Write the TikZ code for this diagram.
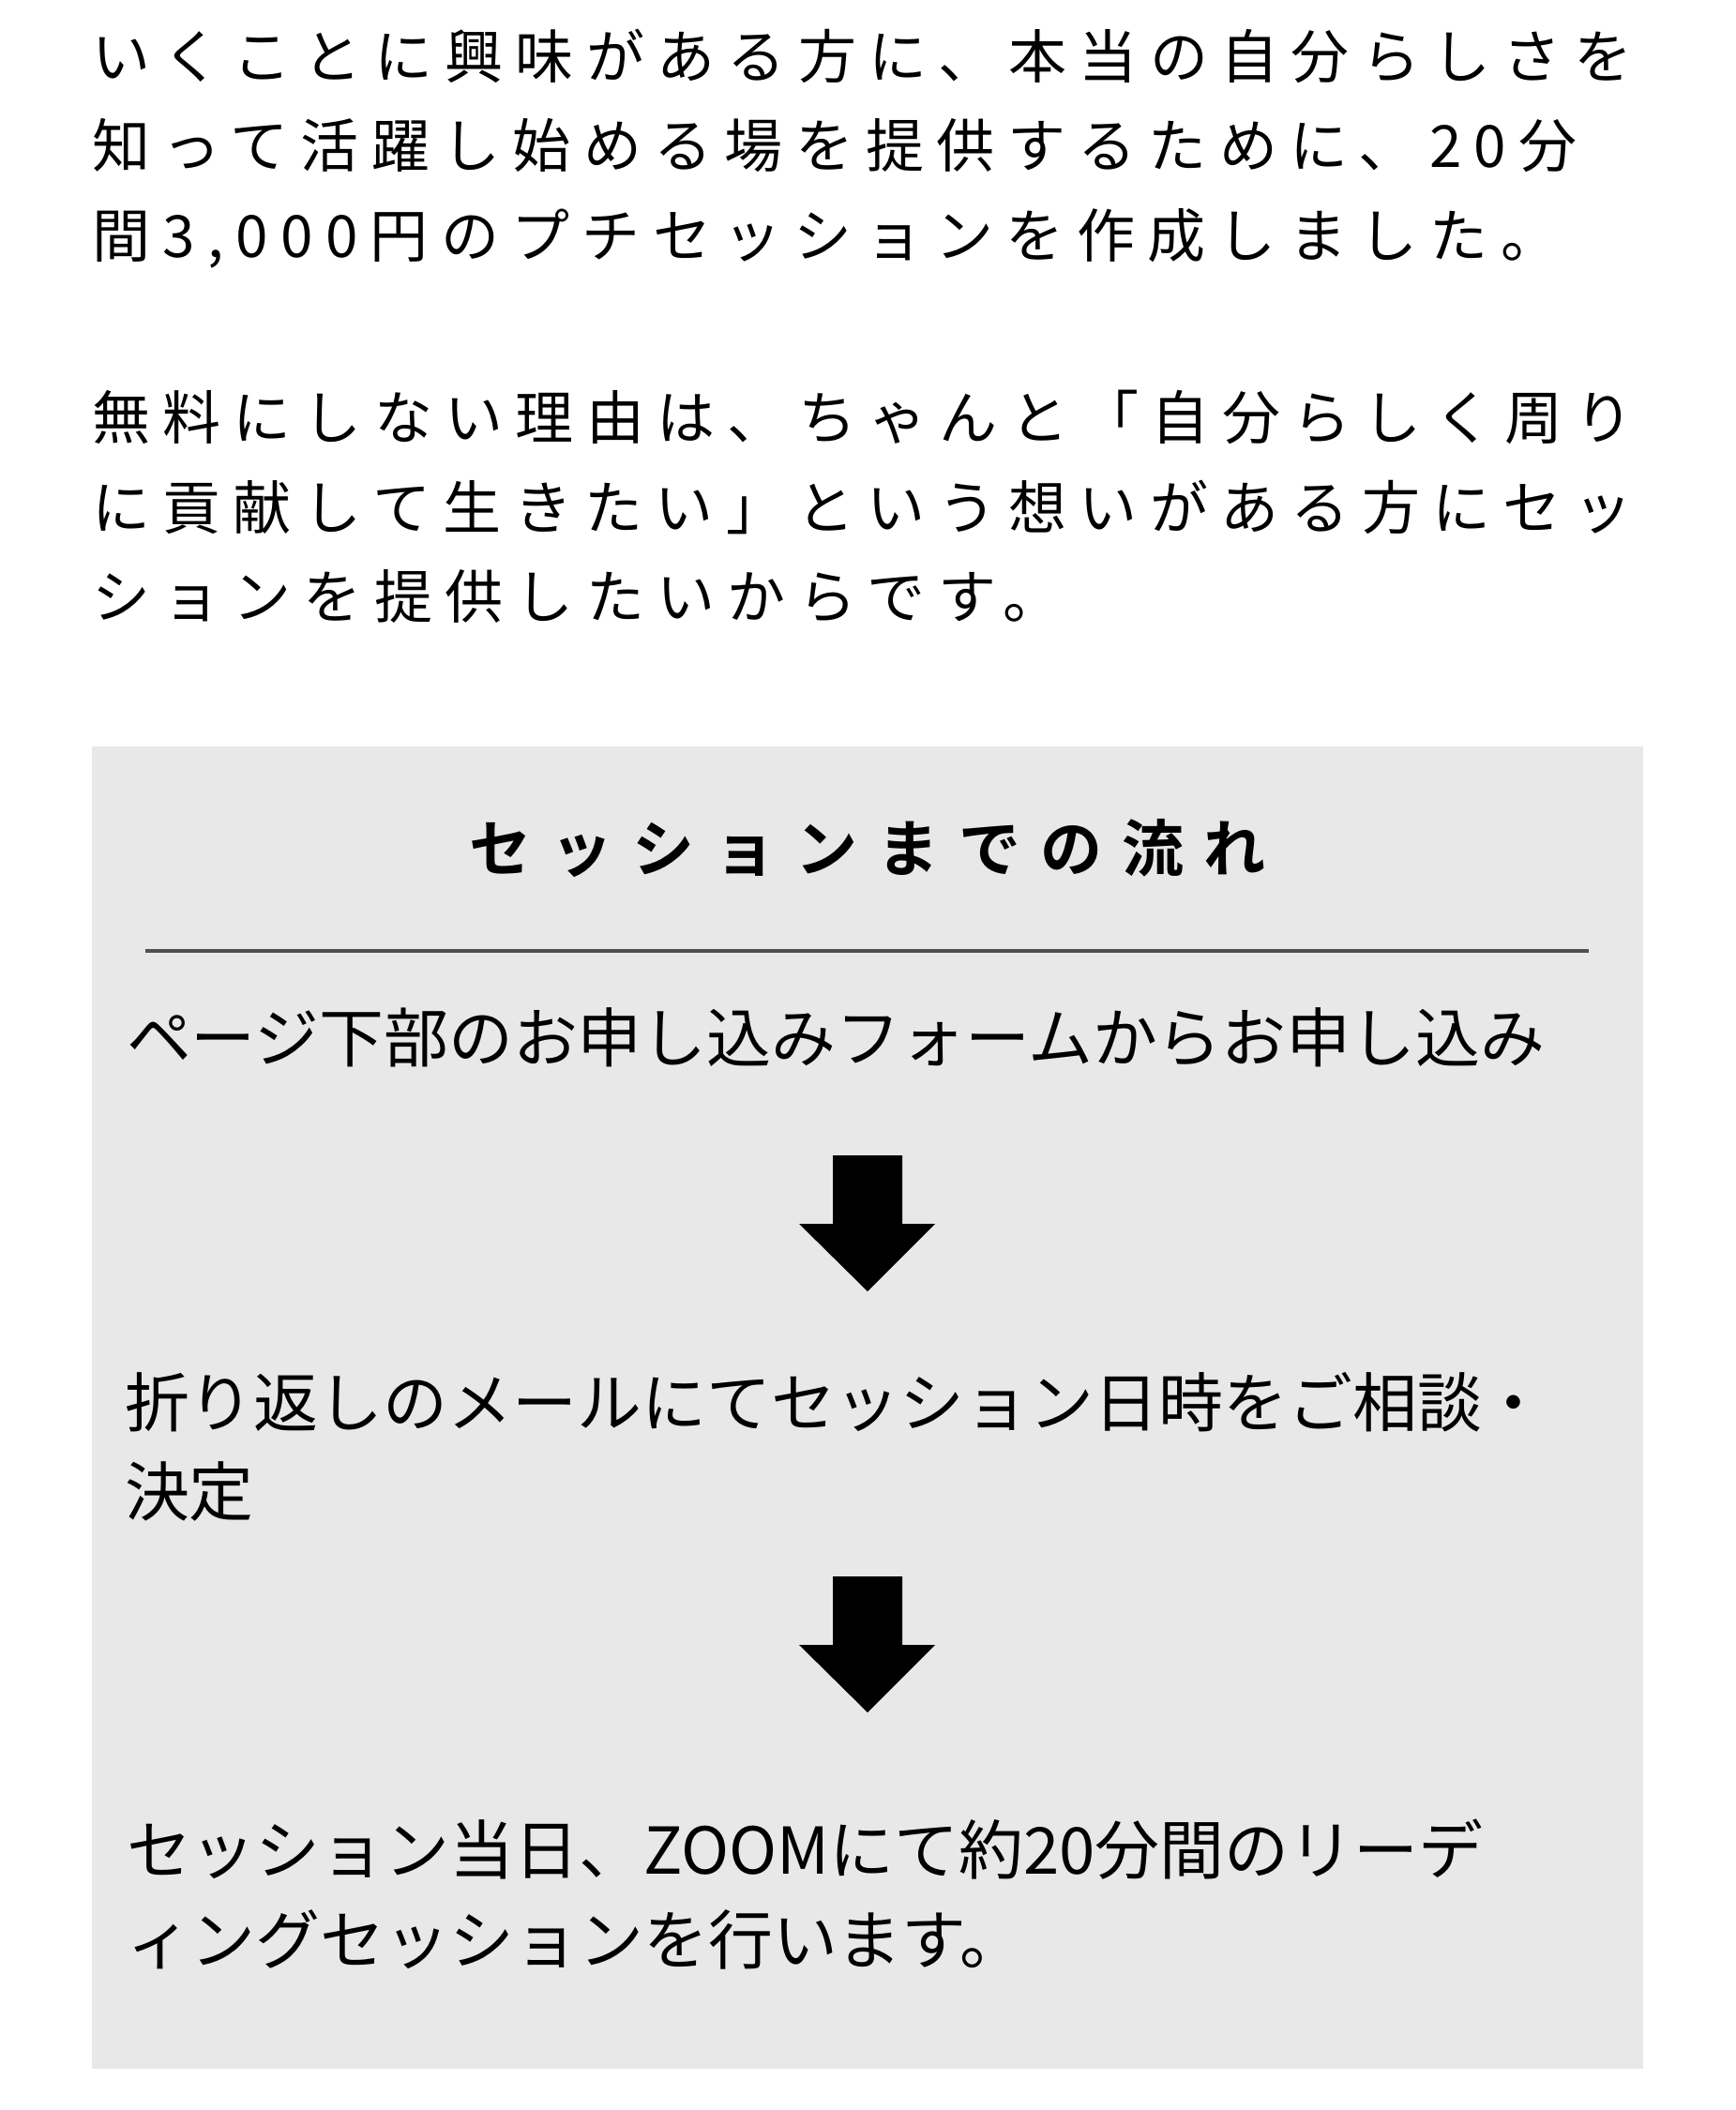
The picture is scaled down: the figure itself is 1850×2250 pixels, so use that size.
\documentclass[tikz,border=0pt]{standalone}
\usepackage{fontspec}
\newfontfamily\jpbody[LetterSpace=21.5]{Noto Sans CJK JP}
\newfontfamily\jpstep{Noto Sans CJK JP}
\newfontfamily\jptitle[LetterSpace=31.8,BoldFont={Noto Sans CJK JP Bold}]{Noto Sans CJK JP}
\definecolor{boxgray}{HTML}{E8E8E8}
\definecolor{rulegray}{HTML}{505050}
\tikzset{
  para/.style={anchor=base west, inner sep=0pt, outer sep=0pt, font=\jpbody\fontsize{62pt}{66pt}\selectfont},
  steptext/.style={anchor=base west, inner sep=0pt, outer sep=0pt, font=\jpstep\fontsize{68.9pt}{74pt}\selectfont},
  titletext/.style={anchor=base, inner sep=0pt, outer sep=0pt, font=\jptitle\bfseries\fontsize{66pt}{70pt}\selectfont},
  downarrow/.style={fill=black, draw=none}
}
\begin{document}
\begin{tikzpicture}[x=1pt, y=-1pt]
\useasboundingbox (0,0) rectangle (1850,2250);
\fill[white] (0,0) rectangle (1850,2250);
% paragraph 1
\node[para] (p1) at (98,84) {いくことに興味がある方に、本当の自分らしさを};
\node[para] (p2) at (98,179) {知って活躍し始める場を提供するために、20分};
\node[para] (p3) at (98,274) {間3,000円のプチセッションを作成しました。};
% paragraph 2
\node[para] (q1) at (98,468) {無料にしない理由は、ちゃんと「自分らしく周り};
\node[para] (q2) at (98,564) {に貢献して生きたい」という想いがある方にセッ};
\node[para] (q3) at (98,659) {ションを提供したいからです。};
% gray panel
\fill[boxgray] (98,796) rectangle (1752,2206);
\node[titletext] (title) at (925,929) {セッションまでの流れ};
\draw[rulegray, line width=3.5pt] (155,1014) -- (1694,1014);
\node[steptext] (s1) at (135,1132) {ページ下部のお申し込みフォームからお申し込み};
% arrow 1
\fill[downarrow] (888,1232) -- (962,1232) -- (962,1305) -- (997,1305) -- (925,1377) -- (852,1305) -- (888,1305) -- cycle;
\node[steptext] (s2a) at (133,1521) {折り返しのメールにてセッション日時をご相談・};
\node[steptext] (s2b) at (133,1616) {決定};
% arrow 2
\fill[downarrow] (888,1681) -- (962,1681) -- (962,1754) -- (997,1754) -- (925,1826) -- (852,1754) -- (888,1754) -- cycle;
\node[steptext] (s3a) at (135,1998) {セッション当日、ZOOMにて約20分間のリーデ};
\node[steptext] (s3b) at (135,2094) {ィングセッションを行います。};
\end{tikzpicture}
\end{document}
